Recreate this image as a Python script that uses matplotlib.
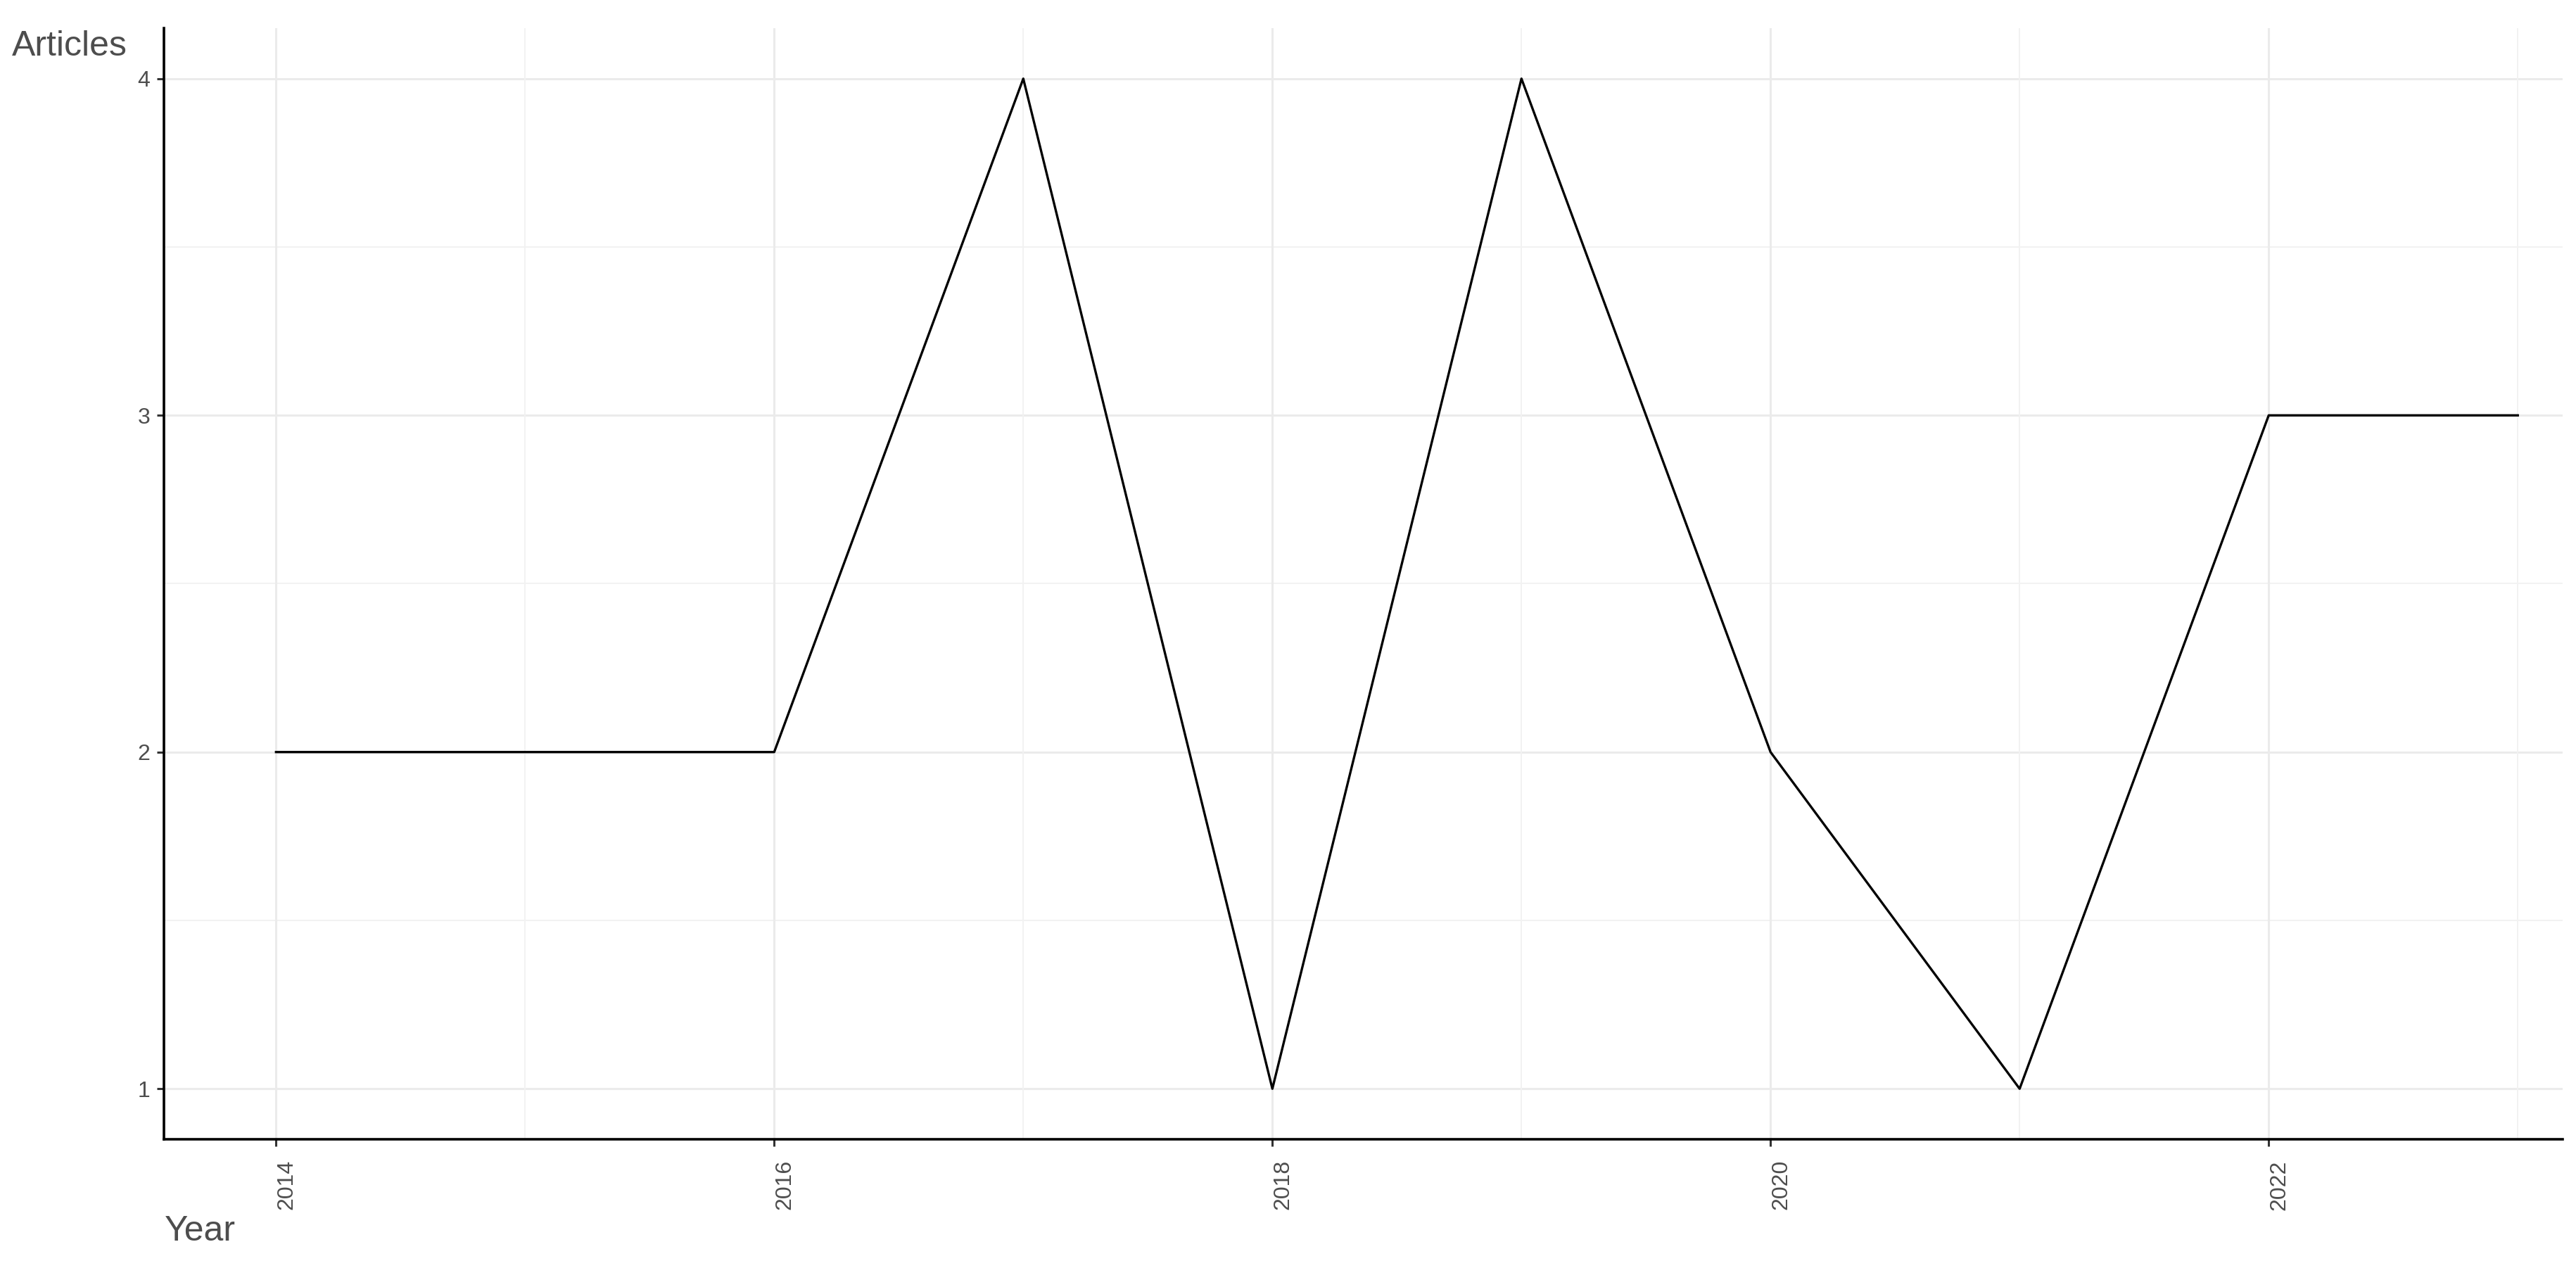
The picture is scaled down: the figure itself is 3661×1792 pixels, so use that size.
import matplotlib
matplotlib.use("Agg")
import matplotlib.pyplot as plt
import matplotlib.transforms as mtransforms
import numpy as np

years = [2014, 2015, 2016, 2017, 2018, 2019, 2020, 2021, 2022, 2023]
articles = [2, 2, 2, 4, 1, 4, 2, 1, 3, 3]
x_breaks = [2014, 2016, 2018, 2020, 2022]
y_breaks = [1, 2, 3, 4]

plt.rcParams['font.family'] = ['Liberation Sans', 'DejaVu Sans']

fig = plt.figure(figsize=(36.62, 17.92), dpi=100)
ax = fig.add_axes([233 / 3662, 1 - 1619 / 1792, (3642 - 233) / 3662, (1619 - 40) / 1792])

# grid like ggplot (major + minor)
for v in y_breaks:
    ax.axhline(v, color='#ebebeb', lw=2.2, zorder=0)
for v in [1.5, 2.5, 3.5]:
    ax.axhline(v, color='#f2f2f2', lw=1.4, zorder=0)
for v in x_breaks:
    ax.axvline(v, color='#ebebeb', lw=2.2, zorder=0)
for v in [2015, 2017, 2019, 2021, 2023]:
    ax.axvline(v, color='#f2f2f2', lw=1.4, zorder=0)

ax.plot(years, articles, color='black', lw=2.4, zorder=3)

ax.set_xlim(2013.55, 2023.18)
ax.set_ylim(0.85, 4.15)
ax.set_xticks(x_breaks)
ax.set_yticks(y_breaks)
ax.set_xticklabels([str(v) for v in x_breaks], rotation=90, fontsize=23, color='#4d4d4d')
ax.set_yticklabels([str(v) for v in y_breaks], fontsize=23, color='#4d4d4d')
ax.tick_params(axis='both', length=7, width=2.2, color='#333333', pad=7)
ax.tick_params(axis='x', pad=14)

# nudge rotated labels a little right, like the original
off = mtransforms.ScaledTranslation(0.15, 0, fig.dpi_scale_trans)
for lab in ax.get_xticklabels():
    lab.set_transform(lab.get_transform() + off)

for s in ['top', 'right']:
    ax.spines[s].set_visible(False)
for s in ['left', 'bottom']:
    ax.spines[s].set_linewidth(2.6)
    ax.spines[s].set_color('black')

fig.text(17 / 3662, 1 - 66 / 1792, 'Articles', fontsize=36, color='#4d4d4d', ha='left', va='center')
fig.text(234 / 3662, 1 - 1750 / 1792, 'Year', fontsize=36, color='#4d4d4d', ha='left', va='center')

fig.savefig('out.png', dpi=100, facecolor='white')
